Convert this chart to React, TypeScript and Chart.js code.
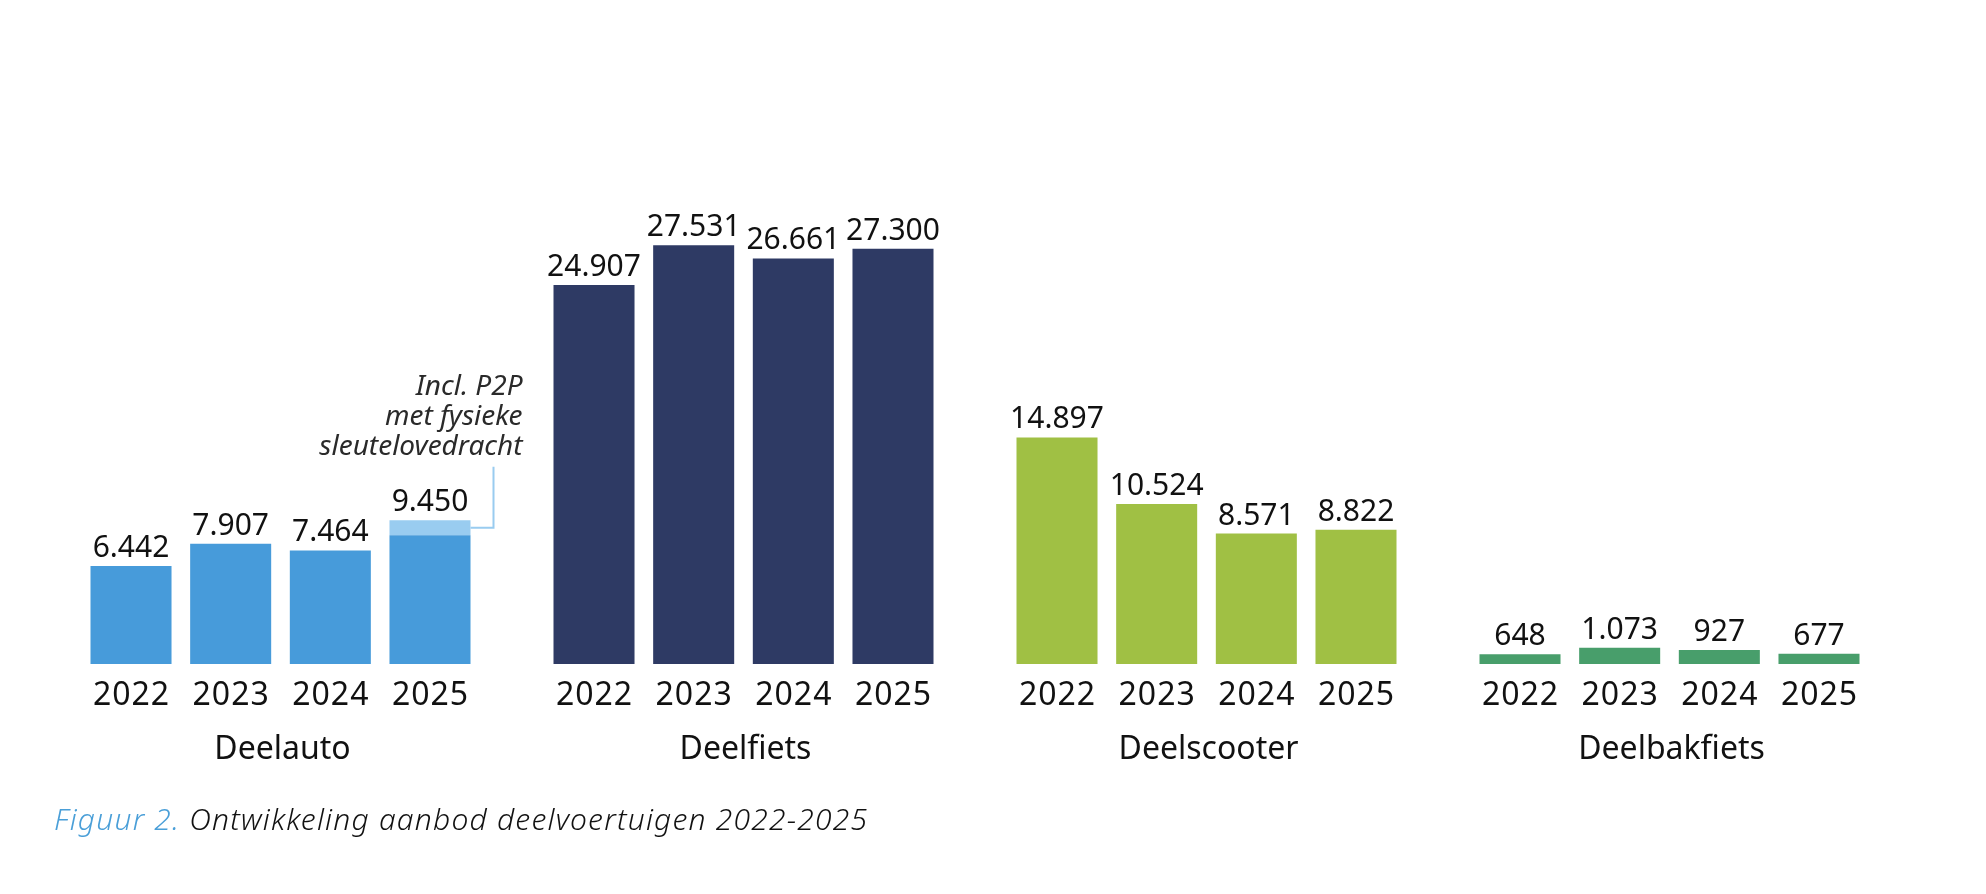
import React, { useEffect, useRef } from "react";
import { Chart, registerables } from "chart.js";

Chart.register(...registerables);

const groups = ["Deelauto", "Deelfiets", "Deelscooter", "Deelbakfiets"];
const years = ["2022", "2023", "2024", "2025"];
const values2022 = [6442, 24907, 14897, 648];
const values2023 = [7907, 27531, 10524, 1073];
const values2024 = [7464, 26661, 8571, 927];
const values2025 = [8470, 27300, 8822, 677];
const p2p2025 = [980, null, null, null];
const groupColors = ["#479BDA", "#2E3A64", "#A0C044", "#489E6B"];
const p2pColor = "#99CCF0";
const annotationLines = ["Incl. P2P", "met fysieke", "sleutelovedracht"];
const captionLead = "Figuur 2.";
const captionText = " Ontwikkeling aanbod deelvoertuigen 2022-2025";

const FONT = '"Noto Sans", "Open Sans", sans-serif';

function fmt(v: number): string {
  return String(Math.round(v)).replace(/\B(?=(\d{3})+(?!\d))/g, ".");
}

const labelsPlugin = {
  id: "labelsPlugin",
  afterDatasetsDraw(chart: any) {
    const ctx = chart.ctx;
    const yScale = chart.scales.y;
    const bottom = yScale.getPixelForValue(0);
    const yearSets = [values2022, values2023, values2024, values2025];
    ctx.save();
    ctx.fillStyle = "#111111";
    ctx.textAlign = "center";
    ctx.textBaseline = "alphabetic";
    for (let g = 0; g < groups.length; g++) {
      for (let y = 0; y < years.length; y++) {
        const meta = chart.getDatasetMeta(y);
        const el = meta.data[g];
        if (!el) continue;
        let total = yearSets[y][g];
        let top = el.y;
        if (y === 3 && p2p2025[g] != null) {
          const pe = chart.getDatasetMeta(4).data[g];
          total += p2p2025[g] as number;
          top = pe.y;
        }
        ctx.letterSpacing = "0px";
        ctx.font = `400 30px ${FONT}`;
        ctx.fillText(fmt(total), el.x, top - 9);
        ctx.letterSpacing = "1px";
        ctx.font = `400 32px ${FONT}`;
        ctx.fillText(years[y], el.x + 0.5, bottom + 41);
      }
      const first = chart.getDatasetMeta(0).data[g];
      const last = chart.getDatasetMeta(3).data[g];
      ctx.letterSpacing = "0px";
      ctx.font = `400 32px ${FONT}`;
      ctx.fillText(groups[g], (first.x + last.x) / 2 + 2, bottom + 95);
    }

    // annotation for P2P
    const pe = chart.getDatasetMeta(4).data[0];
    if (pe) {
      const right = pe.x + pe.width / 2;
      const midY = (pe.y + pe.base) / 2;
      const lineX = right + 23;
      ctx.strokeStyle = p2pColor;
      ctx.lineWidth = 2;
      ctx.beginPath();
      ctx.moveTo(right, midY);
      ctx.lineTo(lineX, midY);
      ctx.lineTo(lineX, midY - 61);
      ctx.stroke();
      ctx.font = `italic 400 28px ${FONT}`;
      ctx.textAlign = "right";
      ctx.fillStyle = "#2a2a2a";
      const baseY = midY - 73;
      for (let i = 0; i < annotationLines.length; i++) {
        const idx = annotationLines.length - 1 - i;
        ctx.fillText(annotationLines[idx], lineX + 29, baseY - i * 30);
      }
    }

    // caption
    ctx.textAlign = "left";
    ctx.letterSpacing = "1.2px";
    ctx.font = `italic 300 30px ${FONT}`;
    ctx.fillStyle = "#4A9FD8";
    const cx = 54;
    const cy = 830;
    ctx.fillText(captionLead, cx, cy);
    const w = ctx.measureText(captionLead).width;
    ctx.fillStyle = "#111111";
    ctx.fillText(captionText, cx + w, cy);
    ctx.restore();
  },
};

export default function App() {
  const ref = useRef<HTMLCanvasElement | null>(null);
  useEffect(() => {
    document.body.style.margin = "0";
    if (!ref.current) return;
    const yearSets = [values2022, values2023, values2024, values2025];
    const datasets: any[] = yearSets.map((vals, i) => ({
      label: years[i],
      data: vals,
      backgroundColor: groupColors,
      stack: years[i],
      categoryPercentage: 0.861,
      barPercentage: 0.813,
      borderWidth: 0,
    }));
    datasets.push({
      label: "P2P",
      data: p2p2025,
      backgroundColor: p2pColor,
      stack: years[3],
      categoryPercentage: 0.861,
      barPercentage: 0.813,
      borderWidth: 0,
    });
    const chart = new Chart(ref.current, {
      type: "bar",
      data: { labels: groups, datasets },
      options: {
        animation: false,
        responsive: false,
        devicePixelRatio: 1,
        layout: { padding: { left: 49, right: 85, top: 55.5, bottom: 230 } },
        plugins: { legend: { display: false }, tooltip: { enabled: false } },
        scales: {
          x: { display: false, stacked: true, grid: { display: false } },
          y: { display: false, stacked: true, min: 0, max: 40000, grid: { display: false } },
        },
      },
      plugins: [labelsPlugin],
    });
    return () => chart.destroy();
  }, []);
  return (
    <div style={{ width: 1986, height: 894, background: "#fff" }}>
      <canvas ref={ref} width={1986} height={894} style={{ display: "block" }} />
    </div>
  );
}
